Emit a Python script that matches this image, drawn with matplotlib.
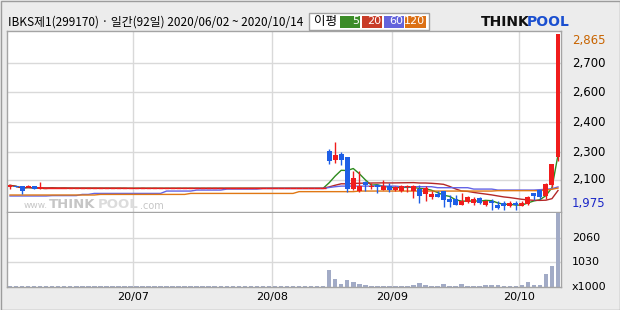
import matplotlib
matplotlib.use("Agg")
import matplotlib.pyplot as plt
import matplotlib.transforms as mtrans
from matplotlib.patches import Rectangle
import numpy as np
import pandas as pd

# trading days 2020/06/02 ~ 2020/10/14 (KRX holidays removed) -> 92 days
holidays = ["2020-08-17", "2020-09-30", "2020-10-01", "2020-10-02", "2020-10-09"]
dates = pd.bdate_range("2020-06-02", "2020-10-14")
dates = dates[~dates.isin(pd.to_datetime(holidays))]

flat = 2085
opens = [2090, 2095, 2095, 2090, 2095, 2080] + [flat] * 47 + [
    2275, 2230, 2260, 2245, 2080, 2070, 2115, 2090, 2100, 2075, 2095, 2075, 2070,
    2090, 2070, 2080, 2055, 2040, 2055, 2070, 2030, 2030, 2000, 2015, 2010, 2035,
    2000, 2020, 2000, 2010, 1995, 2010, 1995, 2005, 2060, 2075, 2045, 2100, 2245]
highs = [2100, 2095, 2095, 2100, 2095, 2115] + [flat] * 47 + [
    2285, 2320, 2270, 2245, 2170, 2170, 2120, 2110, 2105, 2125, 2110, 2095, 2100,
    2100, 2100, 2100, 2095, 2070, 2070, 2070, 2050, 2050, 2060, 2045, 2040, 2040,
    2025, 2030, 2020, 2020, 2020, 2020, 2020, 2045, 2060, 2075, 2110, 2210, 2865]
lows = [2080, 2090, 2055, 2090, 2080, 2080] + [flat] * 47 + [
    2210, 2215, 2205, 2065, 2075, 2065, 2070, 2080, 2060, 2075, 2065, 2070, 2065,
    2065, 2035, 2010, 2020, 2030, 2040, 1990, 1990, 2000, 2000, 2010, 2000, 2005,
    1995, 1975, 1980, 1975, 1990, 1975, 1995, 2000, 2025, 2030, 2030, 2090, 2225]
closes = [2100, 2090, 2070, 2095, 2080, 2090] + [flat] * 47 + [
    2225, 2255, 2230, 2080, 2135, 2095, 2100, 2095, 2090, 2095, 2075, 2090, 2095,
    2095, 2095, 2045, 2085, 2055, 2040, 2025, 2015, 2000, 2020, 2040, 2030, 2010,
    2020, 2010, 1985, 1995, 2010, 2000, 2010, 2040, 2045, 2040, 2105, 2210, 2865]
volumes = [40] * 53 + [
    730, 320, 110, 275, 195, 110, 70, 35, 35, 35, 35, 35, 35, 35, 70, 150, 70, 35,
    35, 110, 35, 35, 110, 35, 35, 35, 70, 70, 70, 35, 35, 35, 70, 205, 70, 70, 525,
    895, 3090]

# long averages (step-like)
ma60 = ([2046] * 7 + [2048] * 5 + [2054] * 2 + [2059] * 12 + [2071] * 5 + [2076] * 5
        + [2081] * 6 + [2084] * 11 + [2089, 2093] + [2096] * 10 + [2093] * 6
        + [2088] * 6 + [2081] * 4 + [2076] * 7 + [2078, 2080, 2083, 2092])
ma120 = ([2051] * 15 + [2054] * 15 + [2059] * 18 + [2068] * 10 + [2071] * 23
         + [2073] * 8 + [2076, 2080, 2086])

price_ticks = [2127, 2268, 2420, 2572, 2719]
price_labels = ["2,100", "2,300", "2,400", "2,600", "2,700"]
vol_ticks = [1030, 2060]
vol_labels = ["1030", "2060"]

RED = "#f01c1c"
BLUE = "#1e5fe6"
GRID = "#d9d9d9"
FRAME = "#a4a4a4"
KFONT = ["Noto Sans CJK KR", "DejaVu Sans"]

closes_s = pd.Series(closes, dtype=float)
ma5 = closes_s.rolling(5, min_periods=1).mean()
ma20 = closes_s.rolling(20, min_periods=1).mean()

W, H = 620, 310
def box(l, t, r, b):
    return [l / W, 1 - b / H, (r - l) / W, (b - t) / H]

fig = plt.figure(figsize=(6.2, 3.1), dpi=100, facecolor="#ececec")
ax = fig.add_axes(box(7, 31, 561, 212))
axv = fig.add_axes(box(7, 213, 561, 287))

x = np.arange(len(dates))
month_starts = [i for i in range(1, len(dates)) if dates[i].month != dates[i - 1].month]

for a in (ax, axv):
    a.set_facecolor("white")
    a.set_xlim(-0.5, len(dates) - 0.5)
    a.set_xticks([])
    a.set_yticks([])
    for s in a.spines.values():
        s.set_color(FRAME)
        s.set_linewidth(1)
    for m in month_starts:
        a.axvline(m - 0.5, color=GRID, lw=1, zorder=1)
axv.spines["top"].set_visible(False)

ax.set_ylim(1965, 2881)
for t in price_ticks:
    ax.axhline(t, color=GRID, lw=1, zorder=1)

# moving averages
ax.plot(x, ma5, color="#2e8b1e", lw=1, zorder=2)
ax.plot(x, ma20, color="#b42828", lw=1, zorder=2)
ax.plot(x, ma60, color="#6464e6", lw=1, zorder=2)
ax.plot(x, ma120, color="#e07814", lw=1, zorder=2)

# candles
for i in x:
    o, h, l, c = opens[i], highs[i], lows[i], closes[i]
    col = RED if c >= o else BLUE
    ax.vlines(i, l, h, color=col, lw=1, zorder=3)
    if c != o:
        ax.bar(i, abs(c - o), bottom=min(o, c), width=0.82, color=col, lw=0, zorder=3)
    else:
        ax.hlines(c, i - 0.45, i + 0.45, color=col, lw=1, zorder=3)

# volume
axv.set_ylim(0, 3090)
for t in vol_ticks:
    axv.axhline(t, color=GRID, lw=1, zorder=1)
axv.bar(x, volumes, width=0.75, color="#a2abc6", lw=0, zorder=2)

# right side labels
tr = mtrans.blended_transform_factory(ax.transAxes, ax.transData)
lx = (572 - 7) / 554
for t, lab in zip(price_ticks, price_labels):
    ax.text(lx, t, lab, transform=tr, fontsize=8.5, va="center", ha="left", color="black")
ax.text(lx, max(highs), f"{max(highs):,}", transform=tr, fontsize=8.5, va="top",
        ha="left", color="#c86400")
ax.text(lx, min(lows), f"{min(lows):,}", transform=tr, fontsize=8.5, va="bottom",
        ha="left", color="#1c28c8")

trv = mtrans.blended_transform_factory(axv.transAxes, axv.transData)
for t, lab in zip(vol_ticks, vol_labels):
    axv.text(lx, t, lab, transform=trv, fontsize=8, va="center", ha="left")
axv.text(lx, 0, "x1000", transform=trv, fontsize=8, va="center", ha="left")

# date labels
trd = mtrans.blended_transform_factory(axv.transData, axv.transAxes)
for m in month_starts:
    axv.text(m - 0.5, -0.14, dates[m].strftime("%y/%m"), transform=trd, fontsize=8,
             ha="center", va="center")

# header
fig.text(8 / W, 1 - 22 / H, "IBKS제1(299170) · 일간(92일) 2020/06/02 ~ 2020/10/14",
         fontsize=8.5, family=KFONT, va="center", ha="left")
fig.patches.append(Rectangle((309 / W, 1 - 30 / H), 120 / W, 17 / H,
                             transform=fig.transFigure, facecolor="white",
                             edgecolor="#a0a0a0", lw=1))
fig.text(314 / W, 1 - 21.5 / H, "이평", fontsize=9, family=KFONT, va="center", ha="left")
legend = [("5", "#3c8c28", 340, 360), ("20", "#c83c28", 362, 382),
          ("60", "#6464dc", 384, 404), ("120", "#dc7014", 405, 426)]
for lab, col, l, r in legend:
    fig.patches.append(Rectangle((l / W, 1 - 27.5 / H), (r - l) / W, 12 / H,
                                 transform=fig.transFigure, facecolor=col, lw=0))
    fig.text((r - 1) / W, 1 - 21.5 / H, lab, fontsize=8, color="white",
             va="center", ha="right")

# logo
fig.text(481 / W, 1 - 22 / H, "THINK", fontsize=10, fontweight="heavy",
         color="#111111", va="center", ha="left")
fig.text(527 / W, 1 - 22 / H, "POOL", fontsize=10, fontweight="heavy",
         color="#1a4fd0", va="center", ha="left")

# watermark
wm = "#c6c6c6"
fig.text(24 / W, 1 - 206 / H, "www.", fontsize=6.5, color=wm, va="center", ha="left")
fig.text(49 / W, 1 - 205 / H, "THINK", fontsize=9.5, fontweight="heavy", color=wm,
         va="center", ha="left")
fig.text(98 / W, 1 - 205 / H, "POOL", fontsize=9.5, fontweight="heavy", color="#dcdcdc",
         va="center", ha="left")
fig.text(140 / W, 1 - 206 / H, ".com", fontsize=7, color=wm, va="center", ha="left")

fig.patches.append(Rectangle((0.5 / W, 0.5 / H), 619 / W, 309 / H,
                             transform=fig.transFigure, fill=False,
                             edgecolor="#9c9c9c", lw=1))

fig.savefig("out.png", dpi=100, facecolor=fig.get_facecolor())
